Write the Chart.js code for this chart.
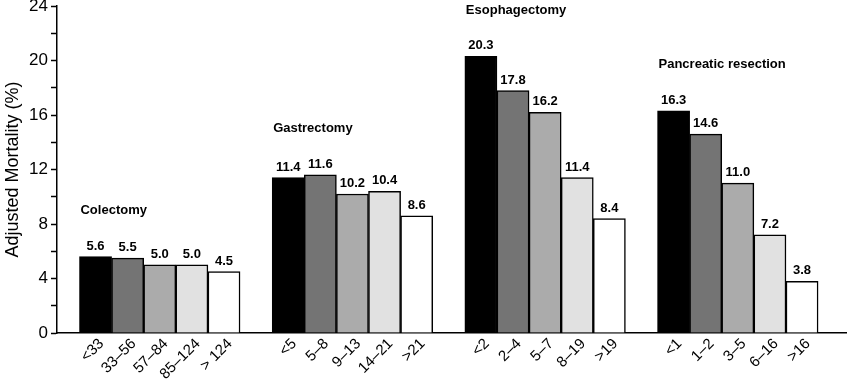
<!DOCTYPE html>
<html>
<head>
<meta charset="utf-8">
<script src="https://cdn.jsdelivr.net/npm/chart.js@4"></script>
<style>
  html, body { margin: 0; padding: 0; background: #fff; }
  #wrap { width: 847px; height: 383px; position: relative; }
</style>
</head>
<body>
<div id="wrap"><canvas id="mortalityChart"></canvas></div>
<script>
// procedure groups and their volume categories
const groupNames = ["Colectomy", "Gastrectomy", "Esophagectomy", "Pancreatic resection"];

const colectomyLabels = ["<33", "33\u201356", "57\u201384", "85\u2013124", "> 124"];
const colectomyValues = [5.6, 5.5, 5.0, 5.0, 4.5];

const gastrectomyLabels = ["<5", "5\u20138", "9\u201313", "14\u201321", ">21"];
const gastrectomyValues = [11.4, 11.6, 10.2, 10.4, 8.6];

const esophagectomyLabels = ["<2", "2\u20134", "5\u20137", "8\u201319", ">19"];
const esophagectomyValues = [20.3, 17.8, 16.2, 11.4, 8.4];

const pancreaticLabels = ["<1", "1\u20132", "3\u20135", "6\u201316", ">16"];
const pancreaticValues = [16.3, 14.6, 11.0, 7.2, 3.8];

const yTickValues = [0, 4, 8, 12, 16, 20, 24];

const groupLabels = [colectomyLabels, gastrectomyLabels, esophagectomyLabels, pancreaticLabels];
const groupValues = [colectomyValues, gastrectomyValues, esophagectomyValues, pancreaticValues];

// quintile shades, lowest volume first
const shades = ["#000000", "#747474", "#ababab", "#e1e1e1", "#ffffff"];

const FONT = "'Liberation Sans', Arial, Helvetica, sans-serif";
const SLOTS_PER_GROUP = 6; // 5 bars + one empty slot between groups

// build points: each bar sits at its own slot on a linear x scale
const points = [];
const colors = [];
const tickLabelMap = {};
groupValues.forEach((vals, g) => {
  vals.forEach((v, i) => {
    const pos = g * SLOTS_PER_GROUP + i;
    points.push({ x: pos, y: v });
    colors.push(shades[i]);
    tickLabelMap[pos] = groupLabels[g][i];
  });
});

// value labels and group titles
const annotate = {
  id: "annotate",
  afterDatasetsDraw(chart) {
    const ctx = chart.ctx;
    const xs = chart.scales.x;
    const ys = chart.scales.y;
    const meta = chart.getDatasetMeta(0);
    ctx.save();
    ctx.fillStyle = "#000";
    ctx.font = "bold 13px " + FONT;
    ctx.textAlign = "center";
    ctx.textBaseline = "bottom";
    meta.data.forEach((bar, idx) => {
      ctx.fillText(points[idx].y.toFixed(1), bar.x, bar.y - 4);
    });

    ctx.textAlign = "left";
    ctx.textBaseline = "middle";
    groupNames.forEach((name, g) => {
      const first = g * SLOTS_PER_GROUP;
      const left = xs.getPixelForValue(first - 0.5);
      const top = Math.max(...groupValues[g]) + 3.4;
      ctx.fillText(name, left + 1, ys.getPixelForValue(top));
    });
    ctx.restore();
  },
};

new Chart(document.getElementById("mortalityChart"), {
  type: "bar",
  data: {
    datasets: [
      {
        data: points,
        backgroundColor: colors,
        borderColor: "#000",
        borderWidth: 1.5,
        barPercentage: 1,
        categoryPercentage: 1,
      },
    ],
  },
  options: {
    responsive: true,
    maintainAspectRatio: false,
    animation: false,
    layout: { padding: { top: 6, right: 0, left: 0, bottom: 0 } },
    plugins: {
      legend: { display: false },
      tooltip: { enabled: false },
    },
    scales: {
      x: {
        type: "linear",
        offset: false,
        min: -1.2,
        max: 23.4,
        afterBuildTicks(scale) {
          scale.ticks = Object.keys(tickLabelMap).map((k) => ({ value: Number(k) }));
        },
        afterFit(scale) {
          scale.height = 50;
          scale.paddingLeft = 0;
          scale.paddingRight = 0;
        },
        ticks: {
          autoSkip: false,
          minRotation: 45,
          maxRotation: 45,
          padding: 2,
          labelOffset: 6,
          color: "#000",
          font: { family: FONT, size: 15 },
          callback: (v) => tickLabelMap[v] || "",
        },
        grid: { display: false, drawTicks: false },
        border: { display: true, color: "#000", width: 1.5 },
      },
      y: {
        min: 0,
        max: 24,
        afterBuildTicks(scale) {
          // minor ticks at every 2, labels only on the major ones
          const t = [];
          for (let v = 0; v <= 24; v += 2) t.push({ value: v });
          scale.ticks = t;
        },
        afterFit(scale) {
          scale.width = 57;
          scale.paddingTop = 0;
          scale.paddingBottom = 0;
        },
        ticks: {
          padding: 3,
          color: "#000",
          font: { family: FONT, size: 17 },
          callback: (v) => (yTickValues.includes(v) ? String(v) : ""),
        },
        grid: {
          drawOnChartArea: false,
          drawTicks: true,
          tickLength: 6,
          tickColor: "#000",
          tickWidth: 1.5,
        },
        border: { display: true, color: "#000", width: 1.5 },
        title: {
          display: true,
          text: "Adjusted Mortality (%)",
          color: "#000",
          font: { family: FONT, size: 18 },
          padding: { top: 2, bottom: 2 },
        },
      },
    },
  },
  plugins: [annotate],
});
</script>
</body>
</html>
